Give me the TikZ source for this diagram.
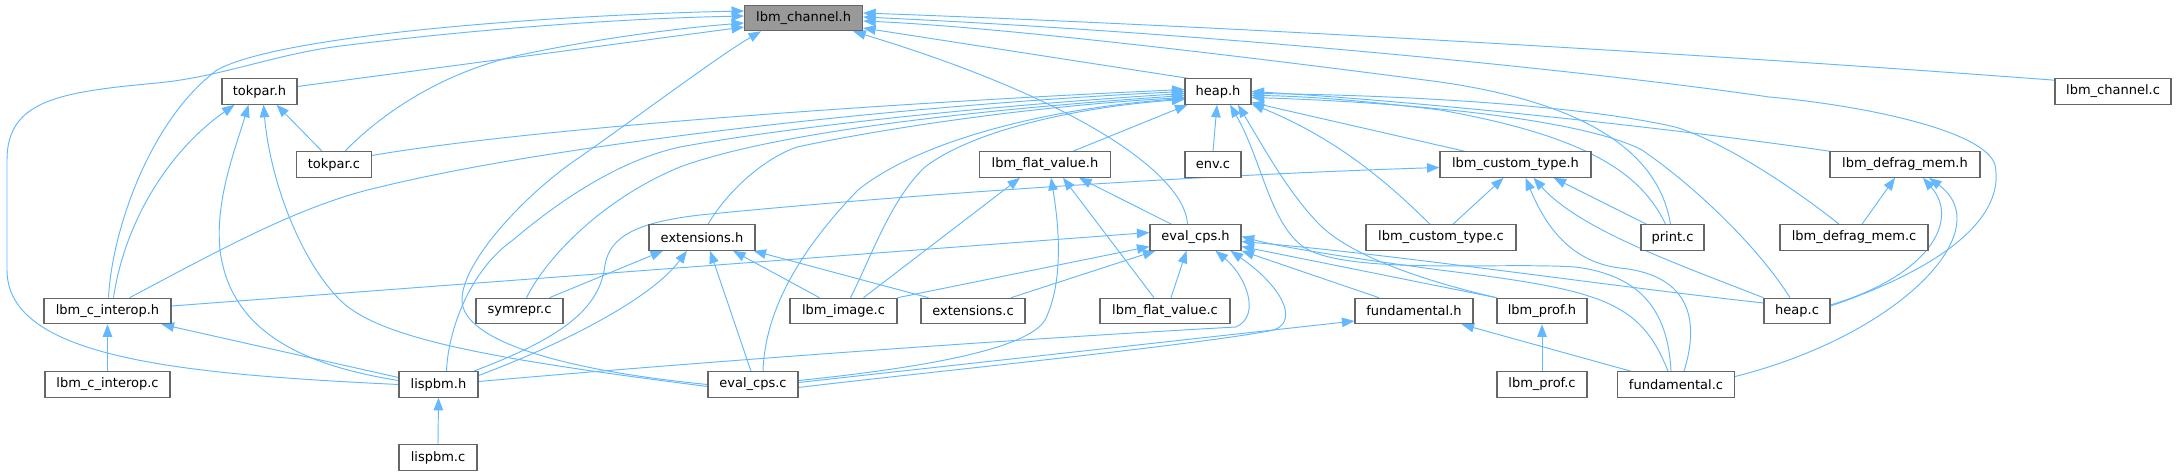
\documentclass[tikz,border=0pt]{standalone}
\usepackage{fontspec}
\setmainfont{DejaVu Sans}
\usetikzlibrary{arrows.meta,calc,backgrounds}
\definecolor{edgeblue}{HTML}{63B8FF}
\definecolor{nodeborder}{HTML}{666666}
\definecolor{rootfill}{HTML}{999999}
\begin{document}
\begin{tikzpicture}[x=1pt,y=-1pt,
  box/.style={draw=nodeborder, line width=1.1pt, fill=white, minimum height=25.5pt, inner sep=0pt, font=\fontsize{13}{15}\selectfont},
  dep/.style={draw=edgeblue, line width=0.95pt, -{Triangle[length=12.5pt,width=9.5pt]}}]
\useasboundingbox (0,0) rectangle (2176,476);
% row 0
\node[box,fill=rootfill,minimum width=118pt] (L) at (803.6,18) {lbm\_channel.h};
% row 1
\node[box,minimum width=75pt] (T) at (259.5,91.5) {tokpar.h};
\node[box,minimum width=66pt] (H) at (1218,91.5) {heap.h};
\node[box,minimum width=116pt] (LC) at (2113,91.5) {lbm\_channel.c};
% row 2
\node[box,minimum width=74.5pt] (TC) at (334,164.5) {tokpar.c};
\node[box,minimum width=131pt] (F) at (1045,164.5) {lbm\_flat\_value.h};
\node[box,minimum width=56pt] (ENV) at (1213,164.5) {env.c};
\node[box,minimum width=151pt] (U) at (1515.5,164.5) {lbm\_custom\_type.h};
\node[box,minimum width=150pt] (D) at (1905,164.5) {lbm\_defrag\_mem.h};
% row 3
\node[box,minimum width=106pt] (X) at (702,237.5) {extensions.h};
\node[box,minimum width=91pt] (E) at (1195.5,237.5) {eval\_cps.h};
\node[box,minimum width=150pt] (UC) at (1441,237.5) {lbm\_custom\_type.c};
\node[box,minimum width=63pt] (PR) at (1672.5,237.5) {print.c};
\node[box,minimum width=148pt] (DC) at (1854,237.5) {lbm\_defrag\_mem.c};
% row 4
\node[box,minimum width=127pt] (C) at (107.5,311) {lbm\_c\_interop.h};
\node[box,minimum width=87pt] (SY) at (519.5,311) {symrepr.c};
\node[box,minimum width=107pt] (IM) at (843.5,311) {lbm\_image.c};
\node[box,minimum width=104pt] (XC) at (973,311) {extensions.c};
\node[box,minimum width=130pt] (FC) at (1165,311) {lbm\_flat\_value.c};
\node[box,minimum width=118pt] (FH) at (1414,311) {fundamental.h};
\node[box,minimum width=90pt] (PH) at (1542,311) {lbm\_prof.h};
\node[box,minimum width=66pt] (HC) at (1797,311) {heap.c};
% row 5
\node[box,minimum width=125pt] (CC) at (107.5,384.5) {lbm\_c\_interop.c};
\node[box,minimum width=79pt] (P) at (438.5,384.5) {lispbm.h};
\node[box,minimum width=90pt] (EC) at (753,384.5) {eval\_cps.c};
\node[box,minimum width=90pt] (PC) at (1542,384.5) {lbm\_prof.c};
\node[box,minimum width=117pt] (FCC) at (1676,384.5) {fundamental.c};
% row 6
\node[box,minimum width=78pt] (PB) at (438,457.5) {lispbm.c};

\begin{scope}[on background layer]
% into lbm_channel.h
\draw[dep] ($(T.east)+(0,-5)$) -- ($(L.west)+(0,9)$);
\draw[dep] ($(H.north west)+(3,0)$) -- ($(L.east)+(0,10)$);
\draw[dep] ($(LC.north west)+(0,2)$) .. controls (1750,57) and (1250,27) .. ($(L.east)+(0,-5)$);
\draw[dep] ($(TC.north)+(11,0)$) .. controls (370,125) and (430,75) .. (520,55) .. controls (600,38) and (680,28) .. ($(L.west)+(0,5)$);
\draw[dep] ($(C.north)+(1,0)$) .. controls (112,230) and (150,120) .. (217,70) .. controls (280,35) and (550,15) .. ($(L.west)+(0,-7)$);
\draw[dep] (P.west) .. controls (180,374) and (7,358) .. (7,270) -- (7,160) .. controls (7,100) and (60,92) .. (157,83) .. controls (220,77) and (270,56) .. (333,47) .. controls (450,32) and (600,19) .. ($(L.west)+(0,-2)$);
\draw[dep] (EC.west) .. controls (560,370) and (462,340) .. (462,300) .. controls (462,260) and (530,190) .. (580,157) .. controls (640,115) and (720,55) .. ($(L.south west)+(17,0)$);
\draw[dep] ($(E.north)+(-8,0)$) .. controls (1185,175) and (1080,100) .. ($(L.south east)+(-10,0)$);
\draw[dep] ($(PR.north)+(-2,0)$) .. controls (1660,160) and (1600,105) .. (1440,82) .. controls (1250,57) and (1000,27) .. ($(L.east)+(0,3)$);
\draw[dep] ($(HC.east)+(0,-5)$) .. controls (1950,265) and (2005,215) .. (1995,165) .. controls (1985,130) and (1860,105) .. (1769,97) .. controls (1620,75) and (1250,35) .. ($(L.east)+(0,-1)$);
% into heap.h
\draw[dep] ($(TC.east)+(0,-9)$) .. controls (550,125) and (950,100) .. ($(H.west)+(0,-2)$);
\draw[dep] ($(C.north)+(22,0)$) .. controls (220,250) and (300,205) .. (380,187) .. controls (550,145) and (900,105) .. ($(H.west)+(0,0)$);
\draw[dep] ($(P.north)+(8,0)$) .. controls (448,330) and (470,270) .. (513,240) .. controls (560,200) and (620,160) .. (680,147) .. controls (800,125) and (1000,105) .. ($(H.west)+(0,2)$);
\draw[dep] ($(SY.north)+(7,0)$) .. controls (545,260) and (600,200) .. (680,167) .. controls (780,130) and (1000,108) .. ($(H.west)+(0,4)$);
\draw[dep] ($(X.north)+(6,0)$) .. controls (725,195) and (760,160) .. (797,147) .. controls (900,125) and (1050,105) .. ($(H.west)+(0,6)$);
\draw[dep] ($(EC.north)+(10,0)$) .. controls (765,310) and (800,250) .. (858,190) .. controls (920,140) and (1050,108) .. ($(H.west)+(0,7)$);
\draw[dep] ($(IM.north)+(7,0)$) .. controls (870,260) and (890,200) .. (925,167) .. controls (980,125) and (1100,105) .. ($(H.west)+(0,8)$);
\draw[dep] ($(F.north)+(28,0)$) -- ($(H.south west)+(3,0)$);
\draw[dep] (ENV.north) -- ($(H.south)+(-1,0)$);
\draw[dep] ($(U.north west)+(25,0)$) -- ($(H.east)+(0,11)$);
\draw[dep] ($(UC.north)+(-11,0)$) .. controls (1390,185) and (1340,140) .. ($(H.south east)+(0,-1)$);
\draw[dep] ($(PR.north)+(-7,0)$) .. controls (1640,170) and (1580,135) .. (1440,110) .. controls (1360,100) and (1300,96) .. ($(H.east)+(0,4)$);
\draw[dep] ($(HC.north)+(-7,0)$) .. controls (1760,250) and (1700,190) .. (1642,150) .. controls (1580,118) and (1400,102) .. ($(H.east)+(0,6)$);
\draw[dep] ($(DC.north)+(-15,0)$) .. controls (1790,185) and (1720,140) .. (1675,127) .. controls (1580,105) and (1400,95) .. ($(H.east)+(0,2)$);
\draw[dep] (D.north west) .. controls (1650,125) and (1400,100) .. ($(H.east)+(0,0)$);
\draw[dep] ($(FCC.north)+(-5,0)$) .. controls (1668,310) and (1640,275) .. (1575,267) .. controls (1500,262) and (1350,275) .. (1305,248) .. controls (1270,225) and (1262,160) .. ($(H.south)+(12,0)$);
\draw[dep] (PH.north west) .. controls (1420,280) and (1350,255) .. (1320,225) .. controls (1290,195) and (1265,150) .. ($(H.south)+(20,0)$);
% into eval_cps.h
\draw[dep] ($(C.east)+(0,-5)$) -- ($(E.west)+(0,-5)$);
\draw[dep] (IM.north east) -- ($(E.west)+(0,9)$);
\draw[dep] ($(XC.north)+(38,0)$) -- ($(E.south west)+(6,0)$);
\draw[dep] ($(FC.north)+(6,0)$) -- ($(E.south)+(-9,0)$);
\draw[dep] ($(P.east)+(0,-3)$) .. controls (700,362) and (1000,340) .. (1236,327) .. controls (1262,315) and (1245,275) .. ($(E.south)+(20,0)$);
\draw[dep] ($(EC.east)+(0,3)$) .. controls (900,375) and (1200,345) .. (1274,330) .. controls (1300,320) and (1280,285) .. ($(E.south)+(35,0)$);
\draw[dep] ($(FH.north)+(-35,0)$) -- (E.south east);
\draw[dep] (PH.north west) -- ($(E.east)+(0,9)$);
\draw[dep] ($(HC.west)+(0,-8)$) .. controls (1600,285) and (1400,255) .. ($(E.east)+(0,4)$);
\draw[dep] ($(FCC.north)+(-8,0)$) .. controls (1640,300) and (1600,290) .. (1440,270) .. controls (1350,258) and (1280,247) .. ($(E.east)+(0,-1)$);
% into lbm_flat_value.h
\draw[dep] ($(IM.north)+(20,0)$) -- ($(F.south)+(-25,0)$);
\draw[dep] ($(EC.east)+(0,-4)$) .. controls (950,365) and (1030,345) .. (1045,320) .. controls (1065,280) and (1058,220) .. ($(F.south)+(6,0)$);
\draw[dep] ($(FC.north)+(-11,0)$) -- ($(F.south)+(18,0)$);
\draw[dep] ($(E.north west)+(22,0)$) -- ($(F.south east)+(-32,0)$);
% into extensions.h
\draw[dep] ($(SY.north)+(30,0)$) -- ($(X.south)+(-39,0)$);
\draw[dep] ($(P.east)+(0,-9)$) .. controls (560,345) and (650,300) .. ($(X.south)+(-15,0)$);
\draw[dep] ($(EC.north)+(-2,0)$) -- ($(X.south)+(8,0)$);
\draw[dep] ($(IM.north)+(-24,0)$) -- ($(X.south)+(31,0)$);
\draw[dep] ($(XC.north west)+(8,0)$) -- ($(X.south east)+(-2,0)$);
% into tokpar.h
\draw[dep] ($(TC.north)+(-12,0)$) -- ($(T.south)+(17,0)$);
\draw[dep] ($(C.north)+(6,0)$) .. controls (125,220) and (170,150) .. ($(T.south)+(-25,0)$);
\draw[dep] ($(P.west)+(0,-4)$) .. controls (300,365) and (230,330) .. (220,250) .. controls (215,200) and (235,150) .. ($(T.south)+(-11,0)$);
\draw[dep] ($(EC.west)+(0,2)$) .. controls (500,360) and (380,340) .. (340,300) .. controls (300,260) and (270,180) .. ($(T.south)+(4,0)$);
% lbm_c_interop.h, lispbm.h
\draw[dep] (CC.north) -- (C.south);
\draw[dep] ($(P.west)+(0,-7)$) -- ($(C.south east)+(-10,0)$);
\draw[dep] (PB.north) -- (P.south);
% into lbm_custom_type.h
\draw[dep] ($(P.north east)+(-5,0)$) .. controls (570,335) and (600,305) .. (605,265) .. controls (610,235) and (640,222) .. (700,215) .. controls (900,195) and (1200,175) .. ($(U.west)+(0,3)$);
\draw[dep] ($(UC.north)+(12,0)$) -- ($(U.south)+(-12,0)$);
\draw[dep] ($(PR.north west)+(6,0)$) -- ($(U.south east)+(-38,0)$);
\draw[dep] (HC.north west) .. controls (1680,265) and (1580,230) .. ($(U.south)+(18,0)$);
\draw[dep] ($(FCC.north)+(8,0)$) .. controls (1700,320) and (1690,275) .. (1620,268) .. controls (1570,262) and (1545,225) .. ($(U.south)+(10,0)$);
% into lbm_defrag_mem.h
\draw[dep] ($(DC.north)+(8,0)$) -- ($(D.south)+(-10,0)$);
\draw[dep] ($(HC.east)+(0,-6)$) .. controls (1930,275) and (1960,220) .. ($(D.south)+(18,0)$);
\draw[dep] ($(FCC.east)+(0,-8)$) .. controls (1900,335) and (2000,230) .. ($(D.south)+(24,0)$);
% others
\draw[dep] (PC.north) -- (PH.south);
\draw[dep] ($(EC.east)+(0,-2)$) -- ($(FH.west)+(0,10)$);
\draw[dep] ($(FCC.north west)+(14,0)$) -- ($(FH.south east)+(-12,0)$);
\end{scope}
\end{tikzpicture}
\end{document}
